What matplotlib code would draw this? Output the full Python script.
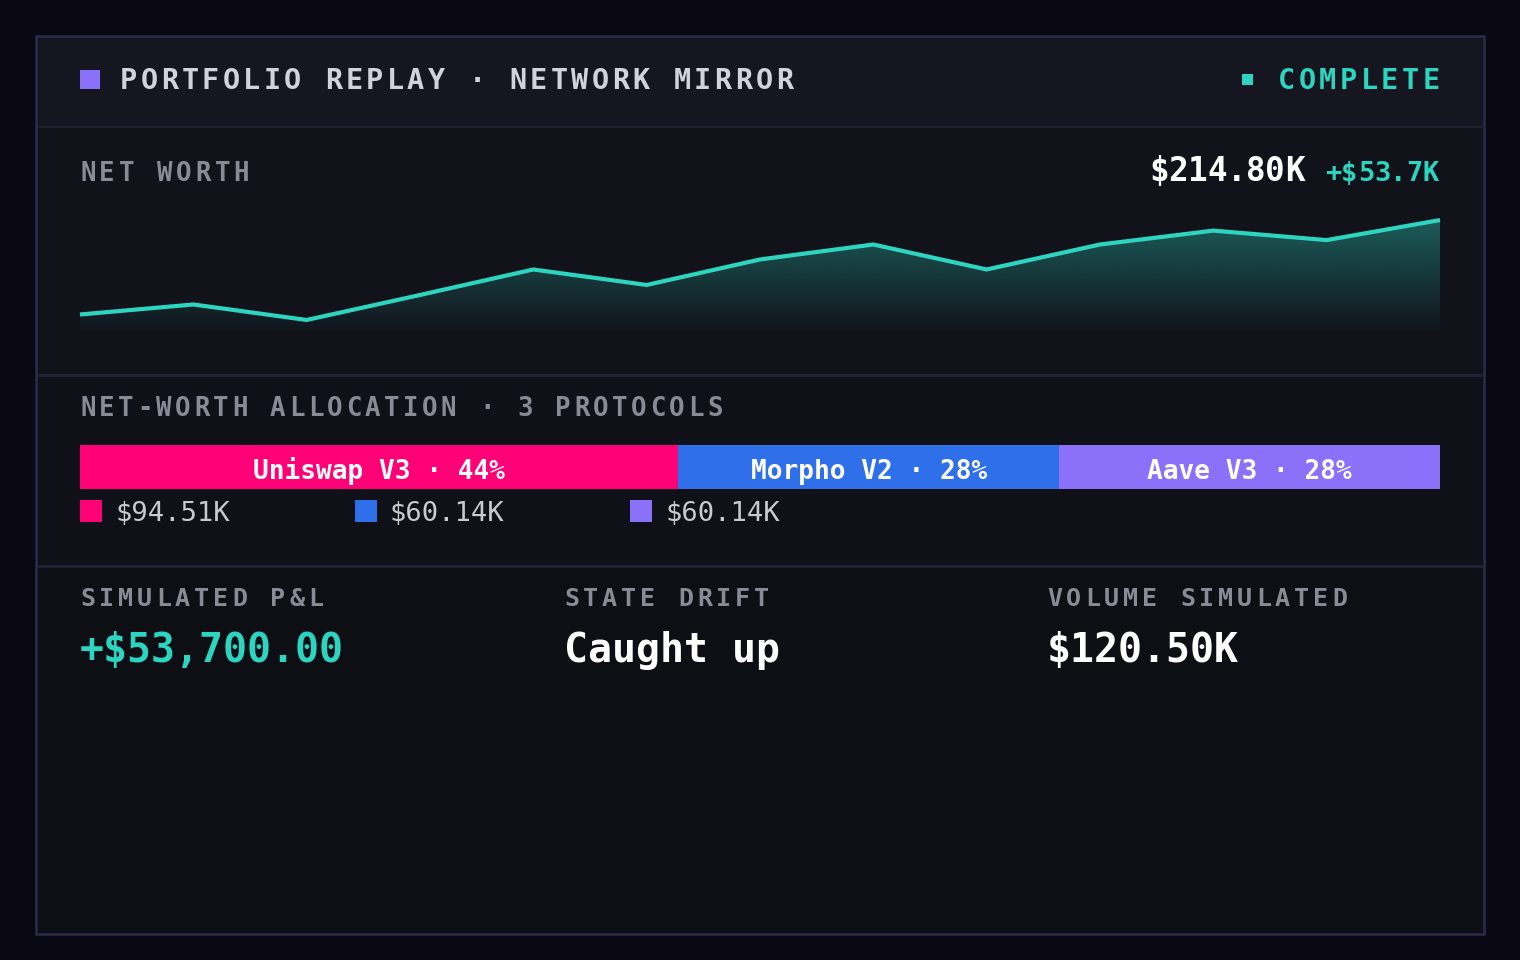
import numpy as np
import matplotlib
matplotlib.use("Agg")
import matplotlib.pyplot as plt
from matplotlib.patches import Rectangle

# ---------------- data ----------------
net_worth_k = [161.1, 166.8, 158.0, 172.2, 186.7, 177.9, 192.4, 200.9, 186.7, 200.9, 208.8, 203.4, 214.8]
protocols = ["Uniswap V3", "Morpho V2", "Aave V3"]
protocol_values_k = [94.51, 60.14, 60.14]
protocol_colors = ["#ff0077", "#2f6fea", "#8b70f9"]
title_text = "PORTFOLIO REPLAY · NETWORK MIRROR"
status_text = "COMPLETE"
net_worth_label = "NET WORTH"
net_worth_value = "$214.80K"
net_worth_change = "+$53.7K"
alloc_label = "NET-WORTH ALLOCATION · 3 PROTOCOLS"
stat_labels = ["SIMULATED P&L", "STATE DRIFT", "VOLUME SIMULATED"]
stat_values = ["+$53,700.00", "Caught up", "$120.50K"]

# ---------------- style ----------------
TEAL = "#2dd4bf"
MONO = "DejaVu Sans Mono"
W, H = 1520, 960
fig = plt.figure(figsize=(W / 100, H / 100), dpi=100)
fig.patch.set_facecolor("#0a0913")

bg = fig.add_axes([0, 0, 1, 1])
bg.set_xlim(0, W)
bg.set_ylim(H, 0)
bg.axis("off")
bg.set_zorder(0)

def rect(x0, y0, x1, y1, fc, ec="none", lw=0, z=1):
    bg.add_patch(Rectangle((x0, y0), x1 - x0, y1 - y0, facecolor=fc, edgecolor=ec, linewidth=lw, zorder=z))

# card sections
rect(36, 36, 1484, 934, "#0e0e15")
rect(37, 37, 1483, 127, "#161621")
rect(37, 128, 1483, 375, "#11121a")
rect(37, 377, 1483, 566, "#0f1018")
rect(37, 126, 1483, 128, "#201f30", z=2)
rect(37, 374, 1483, 377, "#211f36", z=2)
rect(37, 565, 1483, 568, "#211f36", z=2)
bg.add_patch(Rectangle((36, 36), 1448, 898, facecolor="none", edgecolor="#2d2a4a", linewidth=1.8, zorder=3))

def spaced(x, y, s, adv, size, color, weight="bold"):
    for i, ch in enumerate(s):
        bg.text(x + i * adv, y, ch, fontsize=size, color=color, fontweight=weight,
                family=MONO, va="baseline", ha="left", zorder=5)

# header
rect(80, 70, 100, 89, protocol_colors[2], z=4)
spaced(120, 89, title_text, 20.5, 20.5, "#d2d2dc")
rect(1242, 74, 1253, 85, TEAL, z=4)
spaced(1278, 89, status_text, 20.6, 20.5, TEAL)

# net worth heading and value
spaced(80, 181, net_worth_label, 19.2, 18.5, "#8a8a96")
spaced(1149, 181, net_worth_value, 19.4, 23.5, "#ffffff")
spaced(1325, 181, net_worth_change, 16.3, 19.5, TEAL)

# line chart
axl = fig.add_axes([80 / W, 1 - 335 / H, 1360 / W, 135 / H])
axl.set_zorder(2)
axl.patch.set_alpha(0)
axl.axis("off")
xs = np.arange(len(net_worth_k))
ylo, yhi = 149.45, 226.2
axl.set_xlim(0, len(net_worth_k) - 1)
axl.set_ylim(ylo, yhi)
coll = axl.fill_between(xs, net_worth_k, ylo, facecolor="none", edgecolor="none")
grad = np.zeros((256, 1, 4))
grad[..., 0:3] = matplotlib.colors.to_rgb(TEAL)
top_val = max(net_worth_k)
grad[:, 0, 3] = np.linspace(0.38, 0.0, 256)
im = axl.imshow(grad, extent=[0, len(net_worth_k) - 1, ylo, top_val], origin="upper",
                aspect="auto", interpolation="bilinear", zorder=1)
im.set_clip_path(coll.get_paths()[0], transform=axl.transData)
axl.plot(xs, net_worth_k, color=TEAL, lw=3.0, solid_joinstyle="miter", solid_capstyle="butt",
         zorder=3, clip_on=False)

# allocation
spaced(80, 416, alloc_label, 19.0, 18.5, "#8a8a96")
axb = fig.add_axes([80 / W, 1 - 489 / H, 1360 / W, 44 / H])
axb.set_zorder(2)
axb.axis("off")
total = sum(protocol_values_k)
axb.set_xlim(0, total)
axb.set_ylim(-0.5, 0.5)
left = 0
for name, val, col in zip(protocols, protocol_values_k, protocol_colors):
    axb.barh(0, val, left=left, height=1.0, color=col, edgecolor="none")
    pct = round(100 * val / total)
    axb.text(left + val / 2, -0.27, f"{name} · {pct}%", ha="center", va="baseline",
             fontsize=18.8, fontweight="bold", color="#ffffff", family=MONO)
    left += val

for i, (val, col) in enumerate(zip(protocol_values_k, protocol_colors)):
    x0 = 80 + i * 275
    rect(x0, 500, x0 + 22, 522, col, z=4)
    bg.text(x0 + 35, 521, f"${val:.2f}K", fontsize=19.5, color="#c9c9d2", family=MONO,
            va="baseline", ha="left", zorder=5)

# stats
stat_x = [80, 564, 1047]
stat_colors = [TEAL, "#ffffff", "#ffffff"]
for x0, lab, val, col in zip(stat_x, stat_labels, stat_values, stat_colors):
    spaced(x0, 606, lab, 19.0, 18.0, "#8a8a96")
    bg.text(x0, 662, val, fontsize=28.7, fontweight="bold", color=col, family=MONO,
            va="baseline", ha="left", zorder=5)

fig.savefig("out.png", dpi=100, facecolor=fig.get_facecolor())
